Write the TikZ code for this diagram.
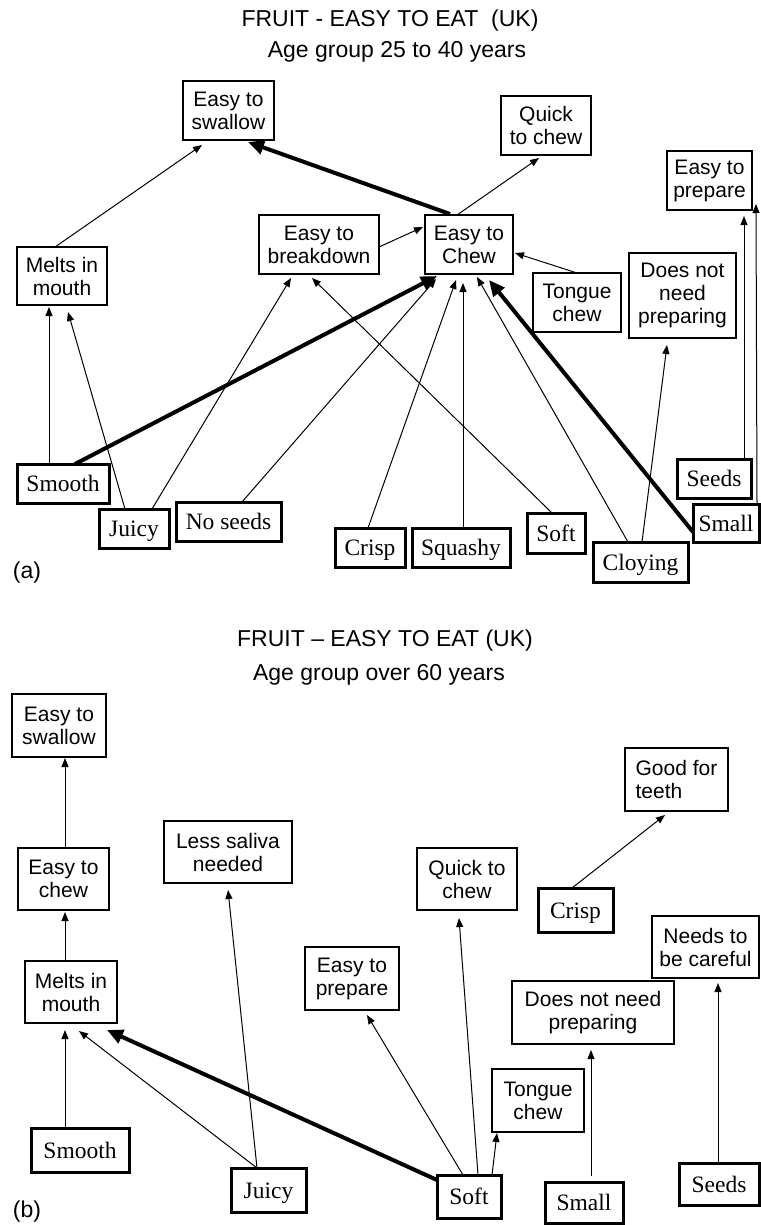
\documentclass[tikz,border=0pt]{standalone}
\usepackage{fontspec}
\setmainfont{Liberation Serif}
\setsansfont{Liberation Sans}
\usetikzlibrary{arrows.meta,calc}

% box given by its corners (x1,y1)-(x2,y2) in pixel units, y pointing down
\newcommand\boxnode[7]{%
  \node[#1, minimum width={(#5-#3)*1pt}, minimum height={(#6-#4)*1pt}]
    (#2) at ({(#3+#5)/2},{(#4+#6)/2}) {#7};}

\tikzset{
  lbl/.style={draw, line width=1.3pt, inner sep=0pt, outer sep=0pt, align=center,
    font=\sffamily\fontsize{21}{23}\selectfont},
  attr/.style={draw, line width=3pt, inner sep=0pt, outer sep=0pt, align=center,
    text height=16pt, text depth=0pt, font=\fontsize{23.5}{26}\selectfont},
  link/.style={line width=1pt, -{Triangle[length=9pt,width=7pt]}},
  strong/.style={line width=4pt, -{Triangle[length=16pt,width=14pt]}},
  ttl/.style={anchor=base, font=\sffamily\fontsize{23}{26}\selectfont},
}

\begin{document}
\begin{tikzpicture}[x=1pt,y=-1pt]
\useasboundingbox (0,0) rectangle (760,1225);

% ---------------- (a) 25 to 40 years ----------------
\node[ttl] (titleA) at (390,27) {FRUIT - EASY TO EAT\ \ (UK)};
\node[ttl] (ageA) at (397,58) {Age group 25 to 40 years};
\node[ttl] (tagA) at (27,578) {(a)};

\boxnode{lbl}{swallowA}{183}{81}{274}{140}{Easy to\\swallow}
\boxnode{lbl}{meltsA}{17}{247}{107}{305}{Melts in\\mouth}
\boxnode{lbl}{breakA}{259}{215}{379}{274}{Easy to\\breakdown}
\boxnode{lbl}{chewA}{425}{215}{513}{274}{Easy to\\Chew}
\boxnode{lbl}{quickA}{501}{96}{591}{155}{Quick\\to chew}
\boxnode{lbl}{prepA}{667}{151}{752}{210}{Easy to\\prepare}
\boxnode{lbl}{tongueA}{533}{273}{621}{332}{Tongue\\chew}
\boxnode{lbl}{noneedA}{629}{253}{736}{338}{Does not\\need\\preparing}

\boxnode{attr}{smoothA}{17}{464}{109}{503}{Smooth}
\boxnode{attr}{juicyA}{99}{509}{169}{548}{Juicy}
\boxnode{attr}{noseedsA}{176}{502}{281}{541}{No seeds}
\boxnode{attr}{crispA}{335}{528}{405}{567}{Crisp}
\boxnode{attr}{squashyA}{412}{528}{510}{567}{Squashy}
\boxnode{attr}{softA}{527}{513}{585}{553}{Soft}
\boxnode{attr}{cloyA}{593}{542}{688}{582}{Cloying}
\boxnode{attr}{seedsA}{677}{459}{751}{498}{Seeds}
\boxnode{attr}{smallA}{693}{504}{759}{542}{Small}

\draw[link] ($(meltsA.north west)+(38,0)$) -- ($(swallowA.north west)+(19,64)$);
\draw[strong] ($(chewA.north west)+(25,-1)$) -- ($(swallowA.north west)+(65,61)$);
\draw[link] ($(chewA.north west)+(32,0)$) -- ($(quickA.north west)+(38,62)$);
\draw[link] ($(breakA.north west)+(120,32)$) -- ($(chewA.north west)+(-2,12)$);
\draw[link] ($(tongueA.north west)+(44,0)$) -- ($(chewA.north west)+(90,38)$);
\draw[link] ($(smoothA.north west)+(32,0)$) -- ($(meltsA.north west)+(32,60)$);
\draw[link] ($(juicyA.north west)+(26,0)$) -- ($(meltsA.north west)+(51,65)$);
\draw[link] ($(juicyA.north west)+(53,0)$) -- ($(breakA.north west)+(32,63)$);
\draw[link] ($(softA.north west)+(25,0)$) -- ($(breakA.north west)+(53,63)$);
\draw[link] ($(noseedsA.north west)+(66,0)$) -- ($(chewA.north west)+(11,64)$);
\draw[link] ($(crispA.north west)+(33,0)$) -- ($(chewA.north west)+(31,65)$);
\draw[link] ($(squashyA.north west)+(51,0)$) -- ($(chewA.north west)+(38,68)$);
\draw[link] ($(cloyA.north west)+(35,0)$) -- ($(chewA.north west)+(52,62)$);
\draw[strong] ($(smoothA.north west)+(58,0)$) -- ($(chewA.north west)+(12,61)$);
\draw[strong] ($(smallA.north west)+(0,28)$) -- ($(chewA.north west)+(64,65)$);
\draw[link] ($(cloyA.north west)+(49,0)$) -- ($(noneedA.north west)+(38,92)$);
\draw[link] ($(seedsA.north west)+(67,0)$) -- ($(prepA.north west)+(77,65)$);
\draw[link] ($(smallA.north west)+(64,0)$) -- ($(prepA.north west)+(89,53)$);

% ---------------- (b) over 60 years ----------------
\node[ttl] (titleB) at (385,646) {FRUIT -- EASY TO EAT (UK)};
\node[ttl] (ageB) at (379,680) {Age group over 60 years};
\node[ttl] (tagB) at (27,1217) {(b)};

\boxnode{lbl}{swallowB}{12}{694}{106}{757}{Easy to\\swallow}
\boxnode{lbl}{chewB}{18}{848}{109}{910}{Easy to\\chew}
\boxnode{lbl}{salivaB}{164}{821}{292}{883}{Less saliva\\needed}
\boxnode{lbl}{meltsB}{25}{961}{117}{1023}{Melts in\\mouth}
\boxnode{lbl,align=left}{teethB}{625}{748}{728}{811}{Good for\\teeth}
\boxnode{lbl}{quickB}{417}{848}{517}{910}{Quick to\\chew}
\boxnode{lbl}{prepB}{305}{947}{399}{1010}{Easy to\\prepare}
\boxnode{lbl}{noneedB}{512}{981}{674}{1044}{Does not need\\preparing}
\boxnode{lbl}{carefulB}{652}{916}{759}{978}{Needs to\\be careful}
\boxnode{lbl}{tongueB}{492}{1069}{584}{1132}{Tongue\\chew}

\boxnode{attr}{crispB}{538}{888}{613}{932}{Crisp}
\boxnode{attr}{smoothB}{31}{1128}{129}{1172}{Smooth}
\boxnode{attr}{juicyB}{231}{1168}{306}{1212}{Juicy}
\boxnode{attr}{softB}{437}{1175}{501}{1218}{Soft}
\boxnode{attr}{smallB}{545}{1182}{623}{1223}{Small}
\boxnode{attr}{seedsB}{679}{1163}{759}{1205}{Seeds}

\draw[link] ($(chewB.north west)+(47,0)$) -- ($(swallowB.north west)+(53,64)$);
\draw[link] ($(meltsB.north west)+(40,0)$) -- ($(chewB.north west)+(47,64)$);
\draw[link] ($(smoothB.north west)+(34,0)$) -- ($(meltsB.north west)+(40,69)$);
\draw[link] ($(juicyB.north west)+(26,0)$) -- ($(meltsB.north west)+(54,70)$);
\draw[strong] ($(softB.north west)+(0,5)$) -- ($(meltsB.north west)+(82,69)$);
\draw[link] ($(juicyB.north west)+(26,0)$) -- ($(salivaB.north west)+(64,69)$);
\draw[link] ($(softB.north west)+(26,0)$) -- ($(prepB.north west)+(62,68)$);
\draw[link] ($(softB.north west)+(41,0)$) -- ($(quickB.north west)+(42,70)$);
\draw[link] ($(softB.north west)+(55,0)$) -- ($(tongueB.north west)+(5,64)$);
\draw[link] ($(smallB.north west)+(46,-6)$) -- ($(noneedB.north west)+(79,69)$);
\draw[link] ($(seedsB.north west)+(39,0)$) -- ($(carefulB.north west)+(66,67)$);
\draw[link] ($(crispB.north west)+(34,0)$) -- ($(teethB.north west)+(40,67)$);
\end{tikzpicture}
\end{document}
